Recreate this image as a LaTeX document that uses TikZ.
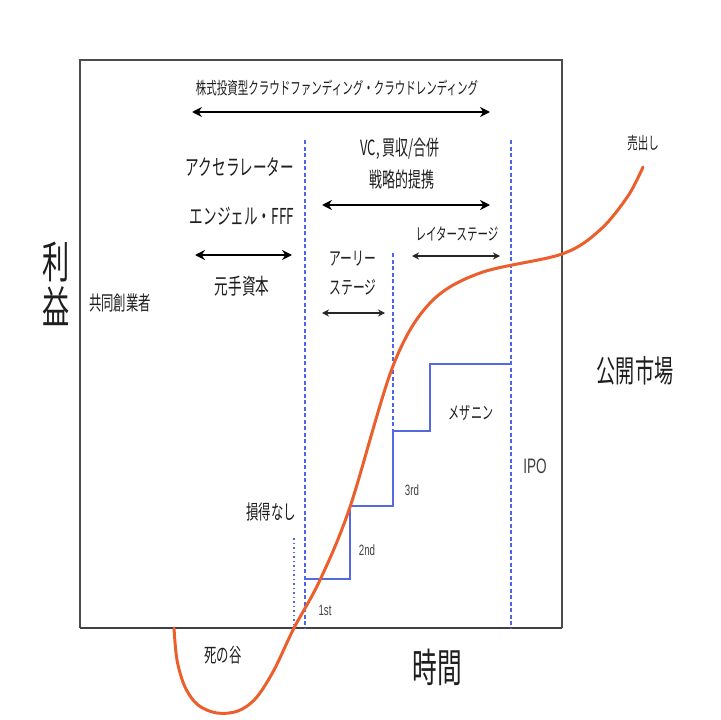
\documentclass[tikz,border=0pt]{standalone}
\usepackage{fontspec}
\newfontfamily\jp[FakeStretch=0.62]{Noto Sans CJK JP}
\newfontfamily\lat[FakeStretch=0.65]{Liberation Sans}
\usetikzlibrary{arrows.meta}
\definecolor{curveor}{RGB}{236,94,44}
\definecolor{stepblue}{RGB}{85,105,225}
\definecolor{dashblue}{RGB}{80,100,235}
\definecolor{txt}{RGB}{30,30,30}
\begin{document}
\begin{tikzpicture}[x=1bp,y=-1bp,
  lbl/.style={inner sep=0pt, text=txt, font=\jp\fontsize{#1}{#1}\selectfont},
  slbl/.style={inner sep=0pt, text=txt!85, font=\lat\fontsize{#1}{#1}\selectfont},
  bigarrow/.style={{Stealth[length=10,width=10]}-{Stealth[length=10,width=10]}, line width=2.6, black},
  smallarrow/.style={{Stealth[length=7,width=7]}-{Stealth[length=7,width=7]}, line width=1.6, black!85},
  framel/.style={line width=1.3, black!70},
  vdash/.style={dashblue, dash pattern=on 4bp off 2.5bp, line width=1.2},
  stepline/.style={stepblue, line width=1.8},
  curve/.style={curveor, line width=3, line cap=round}]
\useasboundingbox (0,0) rectangle (720,720);
\fill[white] (0,0) rectangle (720,720);
% frame
\coordinate (tl) at (80,60);
\coordinate (tr) at (562,60);
\coordinate (bl) at (80,628);
\coordinate (br) at (562,628);
\draw[framel] (bl) -- (tl) -- (tr) -- (br);
\draw[line width=2.3, black!75] (bl) -- (br);
% dashed verticals
\coordinate (d1t) at (305,140); \coordinate (d1b) at (305,628);
\coordinate (d2t) at (511,140); \coordinate (d2b) at (511,628);
\coordinate (d3t) at (393,253); \coordinate (d3b) at (393,431);
\coordinate (dtt) at (294,538); \coordinate (dtb) at (294,628);
\draw[vdash] (d1t) -- (d1b);
\draw[vdash] (d2t) -- (d2b);
\draw[vdash] (d3t) -- (d3b);
\draw[dashblue, dash pattern=on 1.5bp off 3bp, line width=1.4] (dtt) -- (dtb);
% steps
\coordinate (s1) at (305,579); \coordinate (s2) at (350,579);
\coordinate (s3) at (350,506); \coordinate (s4) at (393,506);
\coordinate (s5) at (393,431); \coordinate (s6) at (430,431);
\coordinate (s7) at (430,364); \coordinate (s8) at (511,364);
\draw[stepline] (s1) -- (s2) -- (s3) -- (s4) -- (s5) -- (s6) -- (s7) -- (s8);
% arrows
\coordinate (a1l) at (192,112); \coordinate (a1r) at (490,112);
\coordinate (a2l) at (322,205); \coordinate (a2r) at (490,205);
\coordinate (a3l) at (195,255); \coordinate (a3r) at (292,255);
\coordinate (a4l) at (412,256); \coordinate (a4r) at (500,256);
\coordinate (a5l) at (322,313); \coordinate (a5r) at (385,313);
\draw[bigarrow] (a1l) -- (a1r);
\draw[bigarrow] (a2l) -- (a2r);
\draw[bigarrow] (a3l) -- (a3r);
\draw[smallarrow] (a4l) -- (a4r);
\draw[smallarrow] (a5l) -- (a5r);
% curve
\draw[curve] plot[smooth, tension=0.55] coordinates {
 (174,628) (177,660) (185,687) (198,705) (217,713) (238,711) (256,698)
 (274,670) (294,628) (320,580) (350,507)
 (393,366) (430,303) (480,273) (562,254)
 (600,230) (628,196) (643,167)};
% labels
\node[lbl=17] (t1) at (337,88) {株式投資型クラウドファンディング・クラウドレンディング};
\node[lbl=21] (t2) at (400,149) {VC, 買収/合併};
\node[lbl=21] (t3) at (402,180) {戦略的提携};
\node[lbl=22] (t4) at (240,167) {アクセラレーター};
\node[lbl=22] (t5) at (242,216) {エンジェル・FFF};
\node[lbl=22] (t6) at (242,286) {元手資本};
\node[lbl=19] (t7) at (353,259) {アーリー};
\node[lbl=19] (t8) at (353,287) {ステージ};
\node[lbl=17] (t9) at (457,234) {レイターステージ};
\node[lbl=20] (t10) at (120,303) {共同創業者};
\node[lbl=44] (t11) at (56,262) {利};
\node[lbl=44] (t12) at (56,306) {益};
\node[lbl=31] (t13) at (635,371) {公開市場};
\node[lbl=17] (t14) at (643,143) {売出し};
\node[lbl=18] (t15) at (471,413) {メザニン};
\node[slbl=21] (t16) at (535,466) {IPO};
\node[slbl=15] (t17) at (412,490) {3rd};
\node[slbl=15] (t18) at (367,550) {2nd};
\node[slbl=15] (t19) at (325,610) {1st};
\node[lbl=20] (t20) at (271,512) {損得なし};
\node[lbl=20] (t21) at (223,655) {死の谷};
\node[lbl=40] (t22) at (437,667) {時間};
\end{tikzpicture}
\end{document}
